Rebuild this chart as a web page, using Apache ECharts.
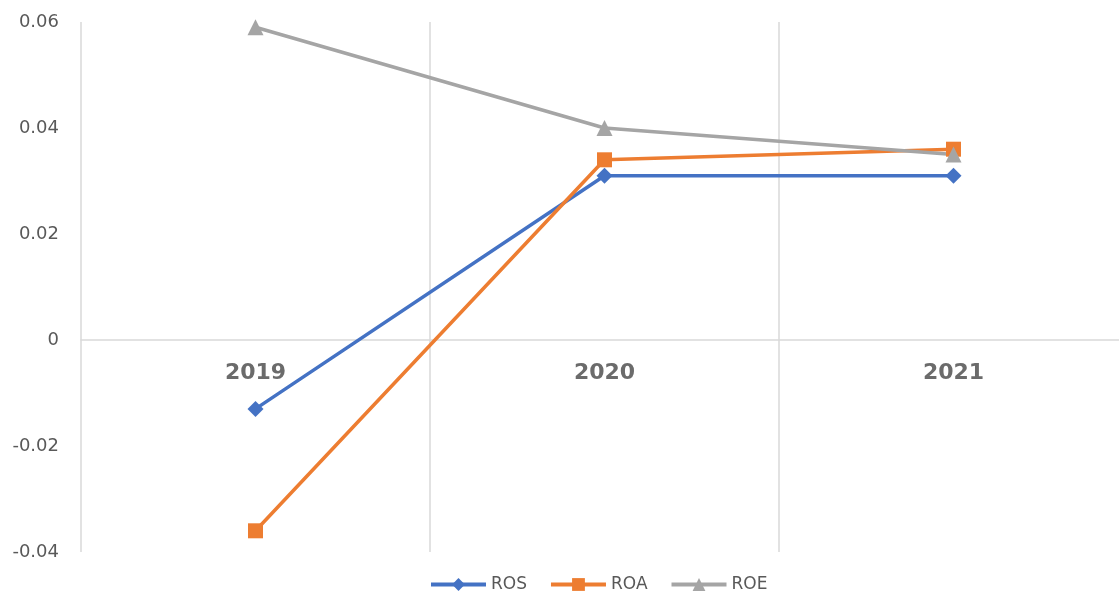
<!DOCTYPE html>
<html>
<head>
<meta charset="utf-8">
<script src="https://cdn.jsdelivr.net/npm/echarts@6/dist/echarts.min.js"></script>
<style>html,body{margin:0;padding:0;background:#fff}#c{width:1119px;height:598px}</style>
</head>
<body>
<div id="c"></div>
<script>
const categories = ['2019', '2020', '2021'];
const rosValues = [-0.013, 0.031, 0.031];
const roaValues = [-0.036, 0.034, 0.036];
const roeValues = [0.059, 0.040, 0.035];
const seriesNames = ['ROS', 'ROA', 'ROE'];
const yMin = -0.04, yMax = 0.06;

const gridTop = 22, gridHeight = 530;
const zeroOffset = -gridHeight * (0 - yMin) / (yMax - yMin);

const chart = echarts.init(document.getElementById('c'));
const lineW = 3.5;
chart.setOption({
  animation: false,
  backgroundColor: '#fff',
  color: ['#4472C4', '#ED7D31', '#A5A5A5'],
  grid: { left: 81, top: gridTop, width: 1047, height: gridHeight, containLabel: false, outerBoundsMode: 'none' },
  legend: {
    data: seriesNames,
    left: 424,
    top: 571,
    itemWidth: 55,
    itemHeight: 16,
    itemGap: 22,
    lineStyle: { width: 4 },
    textStyle: { fontFamily: 'DejaVu Sans', fontSize: 17, color: '#595959' }
  },
  xAxis: {
    type: 'category',
    data: categories,
    boundaryGap: true,
    position: 'bottom',
    offset: zeroOffset,
    axisLine: { onZero: false, lineStyle: { color: '#d9d9d9', width: 1.5 } },
    axisTick: { show: false },
    axisLabel: { margin: 22, fontFamily: 'DejaVu Sans', fontWeight: 'bold', fontSize: 22, color: '#6b6b6b' },
    splitLine: { show: true, lineStyle: { color: '#d9d9d9', width: 1.5 } }
  },
  yAxis: {
    type: 'value',
    min: yMin,
    max: yMax,
    interval: 0.02,
    axisLine: { show: false },
    axisTick: { show: false },
    splitLine: { show: false },
    axisLabel: {
      margin: 22,
      fontFamily: 'DejaVu Sans',
      fontSize: 18,
      color: '#595959',
      formatter: v => Math.abs(v) < 1e-9 ? '0' : String(+v.toFixed(2))
    }
  },
  series: [
    { name: 'ROS', type: 'line', data: rosValues, symbol: 'diamond', symbolSize: 16, lineStyle: { width: lineW }, itemStyle: { color: '#4472C4' } },
    { name: 'ROA', type: 'line', data: roaValues, symbol: 'rect', symbolSize: 15, lineStyle: { width: lineW }, itemStyle: { color: '#ED7D31' } },
    { name: 'ROE', type: 'line', data: roeValues, symbol: 'triangle', symbolSize: 16, lineStyle: { width: lineW }, itemStyle: { color: '#A5A5A5' } }
  ]
});
</script>
</body>
</html>
